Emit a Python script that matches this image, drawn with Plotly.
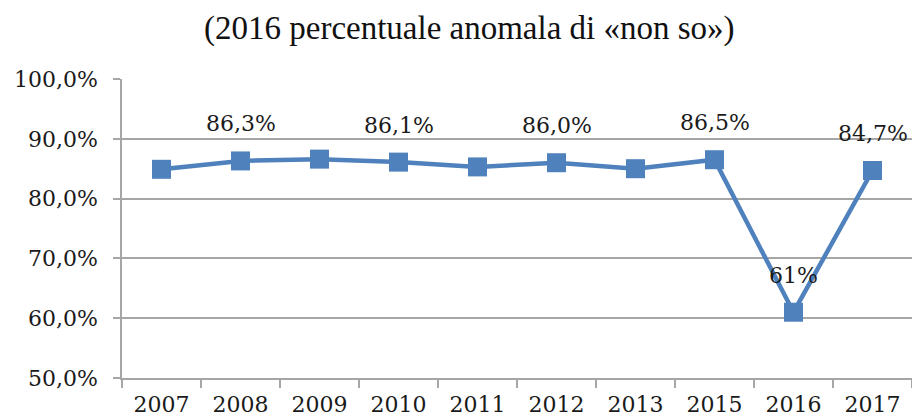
import plotly.graph_objects as go

years = ["2007", "2008", "2009", "2010", "2011", "2012", "2013", "2015", "2016", "2017"]
values = [84.9, 86.3, 86.6, 86.1, 85.3, 86.0, 85.0, 86.5, 61.0, 84.7]
labels = ["", "86,3%", "", "86,1%", "", "86,0%", "", "86,5%", "61%", "84,7%"]
subtitle = "(2016 percentuale anomala di «non so»)"
yticks = [50, 60, 70, 80, 90, 100]
ytick_labels = ["50,0%", "60,0%", "70,0%", "80,0%", "90,0%", "100,0%"]

COLOR = "#4F81BD"
FONT = "DejaVu Serif"
GRID = "#A6A6A6"
TXT = "#1a1a1a"

fig = go.Figure()
fig.add_trace(go.Scatter(
    x=years, y=values, mode="lines+markers",
    line=dict(color=COLOR, width=4.5),
    marker=dict(symbol="square", size=19, color=COLOR),
    hoverinfo="skip", showlegend=False,
))

for i, (y, t) in enumerate(zip(values, labels)):
    if t:
        fig.add_annotation(x=i, y=y, text=t, showarrow=False, yshift=37,
                           font=dict(family=FONT, size=22, color=TXT))

fig.add_annotation(xref="paper", yref="paper", x=0.4405, y=1.17, yanchor="middle",
                   text=subtitle, showarrow=False,
                   font=dict(family="Liberation Serif", size=33, color="#111111"))

fig.update_layout(
    width=912, height=420,
    margin=dict(l=122, r=0, t=79, b=42),
    paper_bgcolor="white", plot_bgcolor="white",
    xaxis=dict(type="category", tickson="boundaries", ticks="outside", ticklen=8,
               tickcolor=GRID, tickwidth=1.5, showline=True, linecolor=GRID, linewidth=1.5,
               showgrid=False, ticklabelstandoff=6,
               tickfont=dict(family=FONT, size=22, color=TXT),
               range=[-0.5, 9.5]),
    yaxis=dict(range=[50, 100], tickvals=yticks, ticktext=ytick_labels,
               ticks="outside", ticklen=7, tickcolor=GRID, tickwidth=1.5,
               showline=True, linecolor=GRID, linewidth=1.5,
               showgrid=True, gridcolor=GRID, gridwidth=1.5, zeroline=False,
               ticklabelstandoff=11,
               tickfont=dict(family=FONT, size=22, color=TXT)),
)

fig.write_html("out.html", config={"displayModeBar": False},
               post_script="document.body.style.margin='0';")
